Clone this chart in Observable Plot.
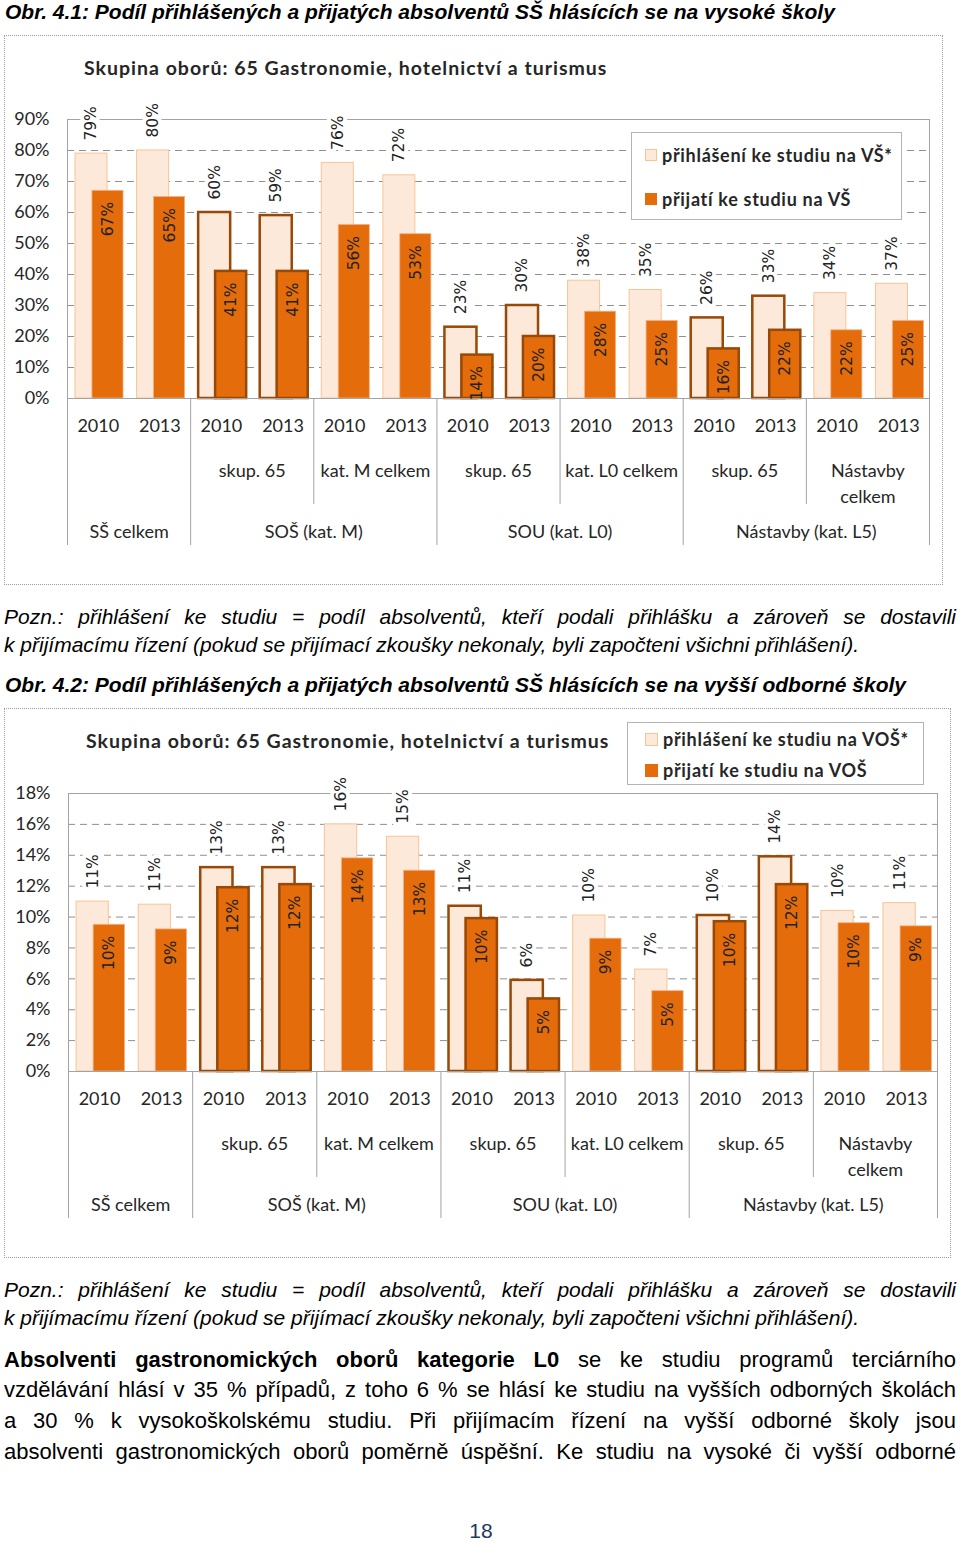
<!DOCTYPE html>
<html>
<head>
<meta charset="utf-8">
<script src="https://cdn.jsdelivr.net/npm/d3@7"></script>
<script src="https://cdn.jsdelivr.net/npm/@observablehq/plot@0.6"></script>
<style>
body{margin:0;background:#fff;}
#page{position:relative;width:960px;height:1545px;overflow:hidden;font-family:"Liberation Sans",Arial,sans-serif;color:#000;}
.abs{position:absolute;white-space:nowrap;}
.cap{font-weight:bold;font-style:italic;font-size:21px;line-height:22px;left:5px;}
.note{font-style:italic;font-size:21px;line-height:22px;left:4px;width:952px;}
.just{text-align:justify;text-align-last:justify;white-space:normal;}
.para{font-size:22px;line-height:24px;left:4px;width:952px;}
.chart{position:absolute;outline:1px dotted #9c9c9c;outline-offset:-1px;}
.chart svg{position:absolute;left:0;top:0;}
.ctitle{position:absolute;font-family:Lato,sans-serif;font-weight:bold;font-size:19.5px;letter-spacing:1px;line-height:22px;color:#262626;white-space:nowrap;}
.legend{position:absolute;border:1px solid #b4b4b4;background:#fff;box-sizing:border-box;font-family:Lato,sans-serif;font-weight:bold;font-size:18px;letter-spacing:0.7px;color:#262626;}
.legend .item{position:absolute;white-space:nowrap;line-height:20px;}
.legend .sw{position:absolute;box-sizing:border-box;}
</style>
</head>
<body>
<div id="page"></div>
<script>
// ---------- data ----------
const sections = ["SŠ celkem", "SOŠ (kat. M)", "SOU (kat. L0)", "Nástavby (kat. L5)"];
const subcategories = ["", "skup. 65", "kat. M celkem", "skup. 65", "kat. L0 celkem", "skup. 65", "Nástavby\ncelkem"];
const subSection = [0, 1, 1, 2, 2, 3, 3];
const highlighted = [false, true, false, true, false, true, false];
const years = ["2010", "2013"];
const yTicksVS = [0, 10, 20, 30, 40, 50, 60, 70, 80, 90];
const yTicksVOS = [0, 2, 4, 6, 8, 10, 12, 14, 16, 18];
// Obr. 4.1 (VŠ), %
const vsApplied  = [79, 80, 60, 59, 76, 72, 23, 30, 38, 35, 26, 33, 34, 37];
const vsAdmitted = [67, 65, 41, 41, 56, 53, 14, 20, 28, 25, 16, 22, 22, 25];
// Obr. 4.2 (VOŠ), %
const vosApplied  = [11.0, 10.8, 13.2, 13.2, 16.0, 15.2, 10.7, 5.9, 10.1, 6.6, 10.1, 13.9, 10.4, 10.9];
const vosAdmitted = [9.5, 9.2, 11.9, 12.1, 13.8, 13.0, 9.9, 4.7, 8.6, 5.2, 9.7, 12.1, 9.6, 9.4];

const chartTitle = "Skupina oborů: 65 Gastronomie, hotelnictví a turismus";
const legendVS = ["přihlášení ke studiu na VŠ*", "přijatí ke studiu na VŠ"];
const legendVOS = ["přihlášení ke studiu na VOŠ*", "přijatí ke studiu na VOŠ"];

const caption1 = "Obr. 4.1: Podíl přihlášených a přijatých absolventů SŠ hlásících se na vysoké školy";
const caption2 = "Obr. 4.2: Podíl přihlášených a přijatých absolventů SŠ hlásících se na vyšší odborné školy";
const noteLines = [
  "Pozn.: přihlášení ke studiu = podíl absolventů, kteří podali přihlášku a zároveň se dostavili",
  "k přijímacímu řízení (pokud se přijímací zkoušky nekonaly, byli započteni všichni přihlášení)."
];
const paraBold = "Absolventi gastronomických oborů kategorie L0";
const paraLines = [
  " se ke studiu programů terciárního",
  "vzdělávání hlásí v 35 % případů, z toho 6 % se hlásí ke studiu na vyšších odborných školách",
  "a 30 % k vysokoškolskému studiu. Při přijímacím řízení na vyšší odborné školy jsou",
  "absolventi gastronomických oborů poměrně úspěšní. Ke studiu na vysoké či vyšší odborné"
];
const pageNumber = "18";

// ---------- colours ----------
const LIGHT = "#FDE9D9", LIGHT_STROKE = "#F8C497", DARK = "#E46C0A", BROWN = "#984807";

const page = document.getElementById("page");
function addDiv(cls, top, html, extra) {
  const d = document.createElement("div");
  d.className = "abs " + cls;
  d.style.top = top + "px";
  d.innerHTML = html;
  if (extra) Object.assign(d.style, extra);
  page.appendChild(d);
  return d;
}

function makeChart({applied, admitted, ticks, width, height, marginLeft, marginRight, marginTop, marginBottom}) {
  const n = applied.length;
  const yMax = ticks[ticks.length - 1];
  const rows = applied.map((v, i) => ({i, year: years[i % 2], applied: v, admitted: admitted[i], hl: highlighted[Math.floor(i / 2)]}));
  const bw = (width - marginLeft - marginRight) / n;
  const plotH = height - marginTop - marginBottom;
  const subs = subcategories.map((s, k) => ({x: 2 * k + 1, label: s})).filter(d => d.label);
  const secSpans = sections.map((name, s) => {
    const ks = subSection.map((ss, k) => ss === s ? k : -1).filter(k => k >= 0);
    return {name, start: ks[0] * 2, end: (ks[ks.length - 1] + 1) * 2};
  });
  const secBounds = [...new Set(secSpans.flatMap(d => [d.start, d.end]))];
  const subBounds = d3.range(1, subcategories.length).map(k => 2 * k).filter(b => !secBounds.includes(b));
  const lightIn = {insetLeft: 0.13 * bw, insetRight: 0.35 * bw};
  const darkIn = {insetLeft: 0.405 * bw, insetRight: 0.09 * bw};
  const lightDx = (0.13 * bw + (bw - 0.35 * bw)) / 2 - bw / 2;
  const darkDx = (0.405 * bw + (bw - 0.09 * bw)) / 2 - bw / 2;
  const fmt = v => Math.round(v) + "%";
  const lab = {fontFamily: "DejaVu Sans, sans-serif", fontSize: 15.5, fill: "#222", rotate: -90};
  const axisTxt = {fontFamily: "Lato, sans-serif", fontSize: 18, fill: "#262626", letterSpacing: "0.6px"};
  return Plot.plot({
    width, height, marginLeft, marginRight, marginTop, marginBottom,
    style: {fontFamily: "Lato, sans-serif", fontSize: "18px", color: "#262626", background: "transparent", overflow: "visible"},
    x: {type: "linear", domain: [0, n], axis: null},
    y: {domain: [0, yMax], axis: null},
    marks: [
      Plot.ruleY(ticks.filter(t => t > 0 && t < yMax), {stroke: "#8f8f8f", strokeDasharray: "7,5", strokeWidth: 1}),
      Plot.rectY(rows.filter(d => !d.hl), {x1: "i", x2: d => d.i + 1, y: "applied", ...lightIn, fill: LIGHT, stroke: LIGHT_STROKE, strokeWidth: 1}),
      Plot.rectY(rows.filter(d => d.hl), {x1: "i", x2: d => d.i + 1, y: "applied", ...lightIn, fill: LIGHT, stroke: BROWN, strokeWidth: 2.5}),
      Plot.rectY(rows.filter(d => !d.hl), {x1: "i", x2: d => d.i + 1, y: "admitted", ...darkIn, fill: DARK, stroke: "#F4B183", strokeWidth: 0.8}),
      Plot.rectY(rows.filter(d => d.hl), {x1: "i", x2: d => d.i + 1, y: "admitted", ...darkIn, fill: DARK, stroke: BROWN, strokeWidth: 2.5}),
      Plot.frame({stroke: "#a3a3a3", strokeWidth: 1}),
      Plot.ruleY([0], {stroke: "#a3a3a3", strokeWidth: 1.2}),
      Plot.axisY({ticks, tickFormat: d => d + "%", tickSize: 0, tickPadding: 18, label: null, fontSize: 18, fill: "#262626", letterSpacing: "0.3px"}),
      Plot.text(rows, {x: d => d.i + 0.5, y: "applied", text: d => fmt(d.applied), dx: lightDx, dy: -13, textAnchor: "start", ...lab, stroke: "white", strokeWidth: 8}),
      Plot.text(rows, {x: d => d.i + 0.5, y: "admitted", text: d => fmt(d.admitted), dx: darkDx, dy: 11, textAnchor: "end", ...lab}),
      Plot.text(rows, {x: d => d.i + 0.5, y: () => 0, text: "year", dy: 28, ...axisTxt}),
      Plot.text(subs, {x: "x", y: () => 0, text: "label", dy: 61, lineAnchor: "top", lineHeight: 1.4, ...axisTxt}),
      Plot.text(secSpans, {x: d => (d.start + d.end) / 2, y: () => 0, text: "name", dy: 134, ...axisTxt}),
      Plot.ruleX(secBounds, {stroke: "#a3a3a3", insetTop: plotH, insetBottom: -147}),
      Plot.ruleX(subBounds, {stroke: "#a3a3a3", insetTop: plotH, insetBottom: -106})
    ]
  });
}

function makeChartBox({left, top, width, height, svg, titleLeft, titleTop, legend}) {
  const box = document.createElement("div");
  box.className = "chart";
  Object.assign(box.style, {left: left + "px", top: top + "px", width: width + "px", height: height + "px"});
  box.appendChild(svg);
  const t = document.createElement("div");
  t.className = "ctitle";
  t.textContent = chartTitle;
  Object.assign(t.style, {left: titleLeft + "px", top: titleTop + "px"});
  box.appendChild(t);
  const lg = document.createElement("div");
  lg.className = "legend";
  Object.assign(lg.style, {left: legend.left + "px", top: legend.top + "px", width: legend.width + "px", height: legend.height + "px"});
  legend.labels.forEach((txt, k) => {
    const sw = document.createElement("div");
    sw.className = "sw";
    Object.assign(sw.style, {left: legend.swLeft + "px", top: (legend.rows[k] - legend.sw / 2) + "px", width: legend.sw + "px", height: legend.sw + "px",
      background: k === 0 ? LIGHT : DARK, border: "1px solid " + (k === 0 ? LIGHT_STROKE : DARK)});
    lg.appendChild(sw);
    const it = document.createElement("div");
    it.className = "item";
    it.textContent = txt;
    Object.assign(it.style, {left: legend.txtLeft + "px", top: (legend.rows[k] - 10) + "px"});
    lg.appendChild(it);
  });
  box.appendChild(lg);
  page.appendChild(box);
}

// captions & texts
addDiv("cap", 1, caption1);
addDiv("note just", 606, noteLines[0]);
addDiv("note", 634, noteLines[1]);
addDiv("cap", 674, caption2);
addDiv("note just", 1279, noteLines[0]);
addDiv("note", 1307, noteLines[1]);
addDiv("para just", 1348, "<b>" + paraBold + "</b>" + paraLines[0]);
addDiv("para just", 1378, paraLines[1]);
addDiv("para just", 1409, paraLines[2]);
addDiv("para just", 1440, paraLines[3]);
addDiv("", 1520, pageNumber, {left: "0px", width: "962px", textAlign: "center", fontSize: "21px", lineHeight: "22px", color: "#1F3864"});

// chart 1
const svg1 = makeChart({applied: vsApplied, admitted: vsAdmitted, ticks: yTicksVS, width: 939, height: 550, marginLeft: 63, marginRight: 14, marginTop: 84, marginBottom: 187});
makeChartBox({left: 4, top: 35, width: 939, height: 550, svg: svg1, titleLeft: 80, titleTop: 22,
  legend: {left: 627, top: 97, width: 271, height: 88, swLeft: 13, sw: 12, txtLeft: 30, rows: [22, 66], labels: legendVS}});

// chart 2
const svg2 = makeChart({applied: vosApplied, admitted: vosAdmitted, ticks: yTicksVOS, width: 947, height: 550, marginLeft: 64, marginRight: 14, marginTop: 85, marginBottom: 187});
makeChartBox({left: 4, top: 708, width: 947, height: 550, svg: svg2, titleLeft: 82, titleTop: 22,
  legend: {left: 623, top: 14, width: 297, height: 63, swLeft: 17, sw: 13, txtLeft: 35, rows: [16, 47], labels: legendVOS}});
</script>
</body>
</html>
